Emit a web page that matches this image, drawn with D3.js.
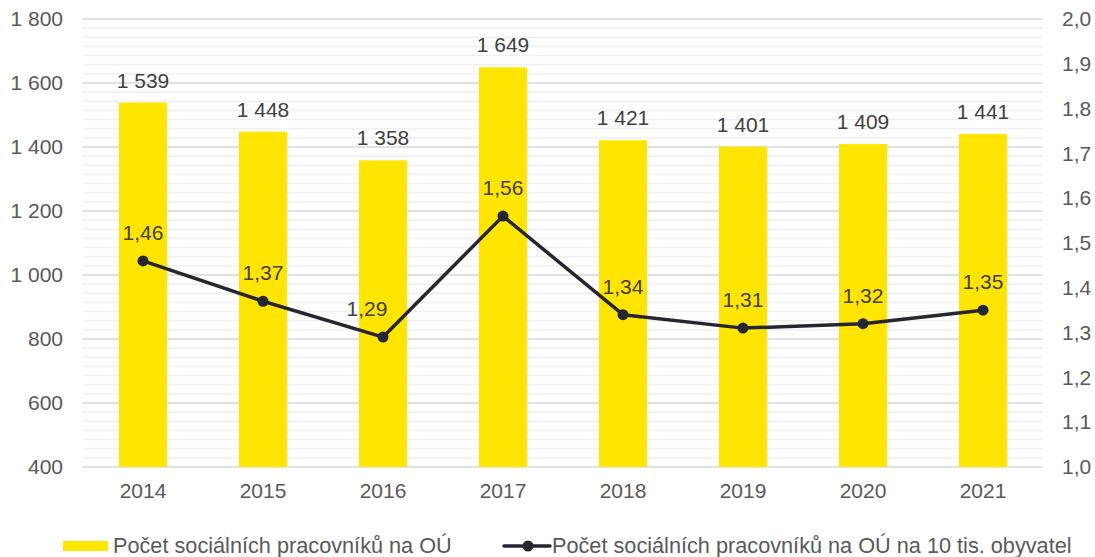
<!DOCTYPE html>
<html><head><meta charset="utf-8">
<script src="https://cdn.jsdelivr.net/npm/d3@7"></script>
<style>body{margin:0;background:#fff}svg{display:block}</style>
</head><body><svg id="c" width="1095" height="557"></svg>
<script>
const years = ["2014","2015","2016","2017","2018","2019","2020","2021"];
const workers = [1539,1448,1358,1649,1421,1401,1409,1441];
const perTenK = [1.46,1.37,1.29,1.56,1.34,1.31,1.32,1.35];
const leftTicks = [400,600,800,1000,1200,1400,1600,1800];
const rightTicks = [1.0,1.1,1.2,1.3,1.4,1.5,1.6,1.7,1.8,1.9,2.0];
const legendLabels = ["Počet sociálních pracovníků na OÚ","Počet sociálních pracovníků na OÚ na 10 tis. obyvatel"];

const svg = d3.select("#c");
const font = "'Liberation Sans', Arial, sans-serif";
const L = 83, R = 1043, T = 19, B = 467;
const x = d3.scaleBand().domain(years).range([L,R]).paddingInner(0.6).paddingOuter(0.3);
const yL = d3.scaleLinear().domain([400,1800]).range([B,T]);
const yR = d3.scaleLinear().domain([1.0,2.0]).range([B,T]);
const fmtL = d => d3.format(",")(d).replace(/,/g," ");
const fmtR1 = d => d3.format(".1f")(d).replace(".",",");
const fmtR2 = d => d3.format(".2f")(d).replace(".",",");

// minor gridlines
const minor = [];
for (let i=0;i<leftTicks.length-1;i++){
  for (let k=1;k<7;k++) minor.push(leftTicks[i] + (leftTicks[i+1]-leftTicks[i])*k/7);
}
svg.append("g").selectAll("line").data(minor).join("line")
  .attr("x1",L).attr("x2",R).attr("y1",d=>yL(d)).attr("y2",d=>yL(d))
  .attr("stroke","#f0f0f0").attr("stroke-width",1.5);
svg.append("g").selectAll("line").data(leftTicks).join("line")
  .attr("x1",L).attr("x2",R).attr("y1",d=>yL(d)).attr("y2",d=>yL(d))
  .attr("stroke","#d9d9d9").attr("stroke-width",1.5);

// axes
const axL = svg.append("g").attr("transform",`translate(${L},0)`)
  .call(d3.axisLeft(yL).tickValues(leftTicks).tickFormat(fmtL).tickSize(0).tickPadding(20));
const axR = svg.append("g").attr("transform",`translate(${R},0)`)
  .call(d3.axisRight(yR).tickValues(rightTicks).tickFormat(fmtR1).tickSize(0).tickPadding(19));
const axB = svg.append("g").attr("transform",`translate(0,${B})`)
  .call(d3.axisBottom(x).tickSize(0).tickPadding(16));
[axL,axR,axB].forEach(a=>{
  a.select(".domain").remove();
  a.selectAll("text").attr("font-family",font).attr("font-size",21).attr("fill","#595959");
});

// bars
svg.append("g").selectAll("rect").data(workers).join("rect")
  .attr("x",(d,i)=>x(years[i])).attr("width",x.bandwidth())
  .attr("y",d=>yL(d)).attr("height",d=>B-yL(d)).attr("fill","#FFE500");
svg.append("g").selectAll("text").data(workers).join("text")
  .attr("x",(d,i)=>x(years[i])+x.bandwidth()/2).attr("y",d=>yL(d)-15)
  .attr("text-anchor","middle").attr("font-family",font).attr("font-size",21).attr("fill","#404040")
  .text(fmtL);

// line
const cx = (d,i)=>x(years[i])+x.bandwidth()/2;
const line = d3.line().x(cx).y(d=>yR(d));
svg.append("path").datum(perTenK).attr("d",line).attr("fill","none")
  .attr("stroke","#262633").attr("stroke-width",3.5).attr("stroke-linejoin","round");
svg.append("g").selectAll("circle").data(perTenK).join("circle")
  .attr("cx",cx).attr("cy",d=>yR(d)).attr("r",5.5).attr("fill","#262633");
// the label at a local minimum is nudged left (as in the original) so it does not sit on the line
const isLocalMin = (d,i)=> i>0 && i<perTenK.length-1 && d<perTenK[i-1] && d<perTenK[i+1] && (perTenK[i+1]-d)>0.1;
svg.append("g").selectAll("text").data(perTenK).join("text")
  .attr("x",(d,i)=>cx(d,i) - (isLocalMin(d,i)?16:0)).attr("y",d=>yR(d)-21)
  .attr("text-anchor","middle").attr("font-family",font).attr("font-size",21).attr("fill","#404040")
  .text(fmtR2);

// legend
const lg = svg.append("g");
lg.append("rect").attr("x",63).attr("y",541).attr("width",45).attr("height",10).attr("fill","#FFE500");
lg.append("text").attr("x",113).attr("y",553).attr("font-family",font).attr("font-size",21.7).attr("fill","#595959").text(legendLabels[0]);
lg.append("line").attr("x1",504).attr("x2",550).attr("y1",546).attr("y2",546).attr("stroke","#262633").attr("stroke-width",3.5).attr("stroke-linecap","round");
lg.append("circle").attr("cx",528).attr("cy",546).attr("r",5.5).attr("fill","#262633");
lg.append("text").attr("x",552).attr("y",553).attr("font-family",font).attr("font-size",21.7).attr("fill","#595959").text(legendLabels[1]);
</script></body></html>
